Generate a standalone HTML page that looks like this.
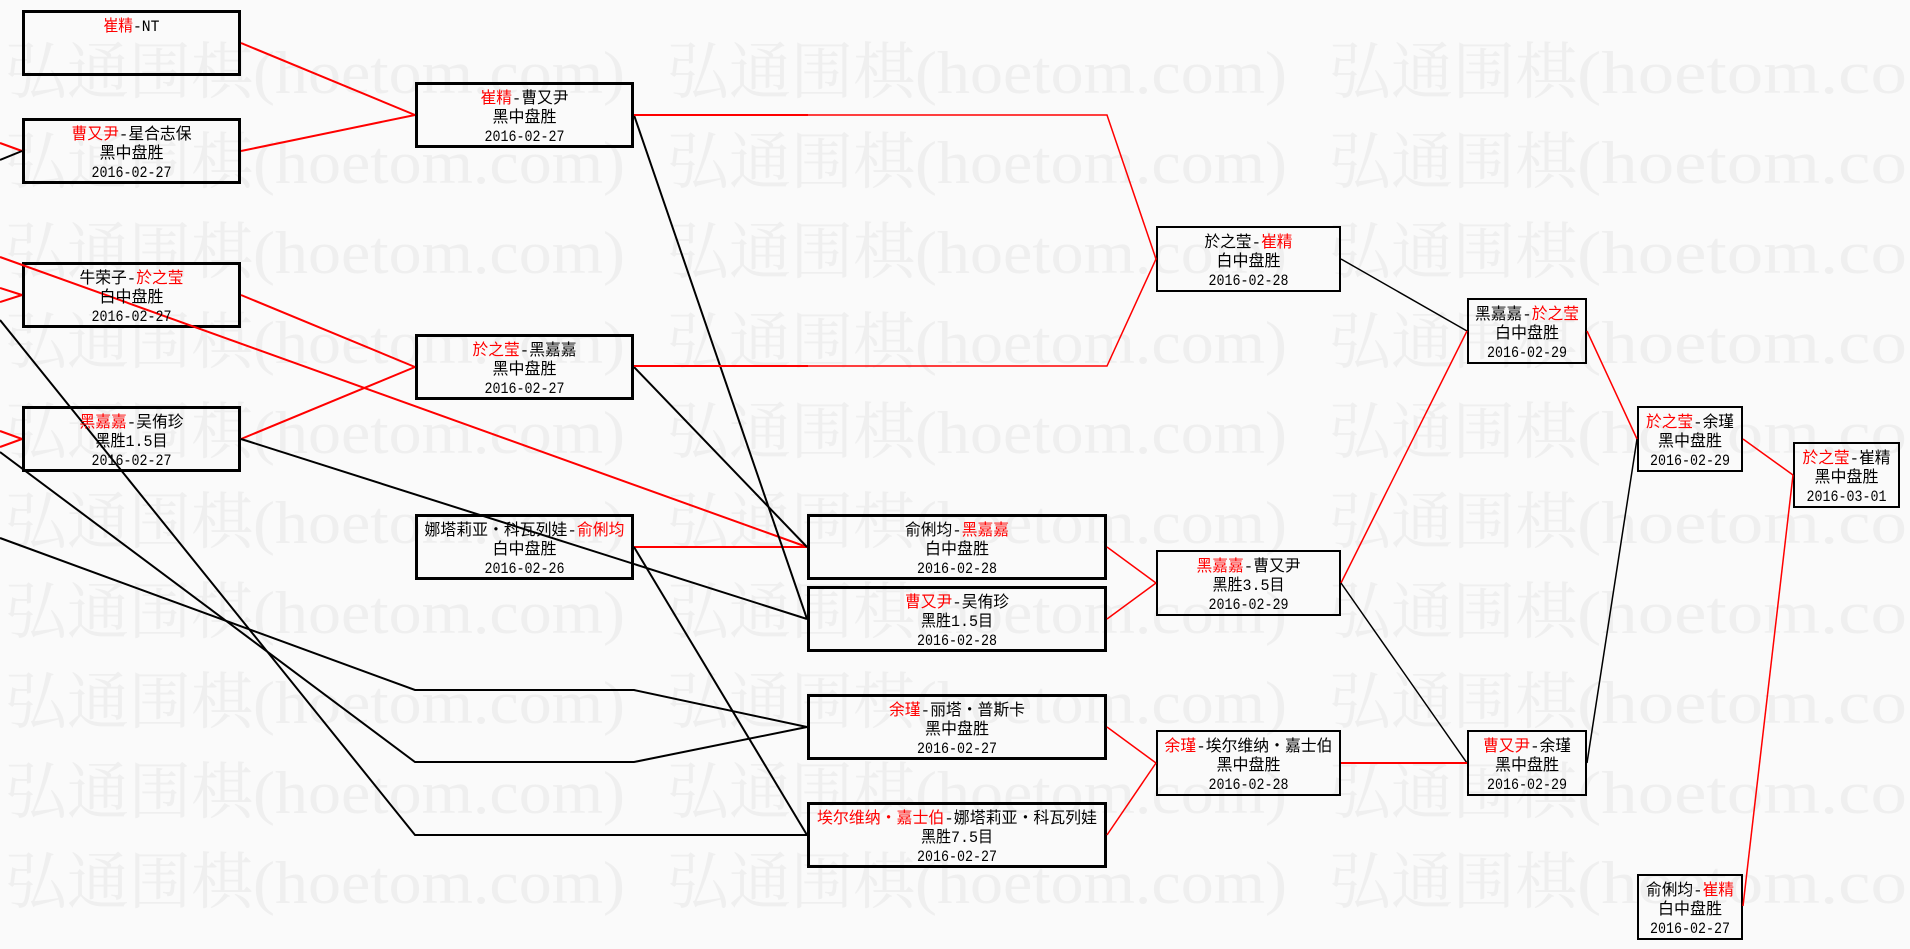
<!DOCTYPE html>
<html>
<head>
<meta charset="utf-8">
<style>
html,body{margin:0;padding:0;background:#fafafa;width:1910px;height:949px;overflow:hidden}
svg{display:block}
.wc{font-family:"Noto Serif CJK SC","Liberation Serif",serif;font-size:62px;fill:#efefef}
.wa{font-family:"Liberation Serif","Noto Serif CJK SC",serif;font-size:60px;fill:#efefef}
.t{font-family:"Liberation Mono","Noto Sans CJK SC",sans-serif;font-size:16px;fill:#000}
.r{fill:#ff0000}
.b3{fill:none;stroke:#000;stroke-width:3}
.b2{fill:none;stroke:#000;stroke-width:2}
.lr{fill:none;stroke:#ff0000;stroke-width:2}
.lb{fill:none;stroke:#000;stroke-width:2}
.lrt{fill:none;stroke:#ff0000;stroke-width:1.5}
.lbt{fill:none;stroke:#000;stroke-width:1.5}
</style>
</head>
<body>
<svg width="1910" height="949" viewBox="0 0 1910 949" xmlns="http://www.w3.org/2000/svg">
<rect x="0" y="0" width="1910" height="949" fill="#fafafa"/>

<!-- watermark -->
<g>
<text class="wc" x="5" y="93" textLength="248" lengthAdjust="spacingAndGlyphs">弘通围棋</text><text class="wa" x="253" y="93" textLength="372" lengthAdjust="spacingAndGlyphs">(hoetom.com)</text>
<text class="wc" x="667" y="93" textLength="248" lengthAdjust="spacingAndGlyphs">弘通围棋</text><text class="wa" x="915" y="93" textLength="372" lengthAdjust="spacingAndGlyphs">(hoetom.com)</text>
<text class="wc" x="1329" y="93" textLength="248" lengthAdjust="spacingAndGlyphs">弘通围棋</text><text class="wa" x="1577" y="93" textLength="330" lengthAdjust="spacingAndGlyphs">(hoetom.co</text>

<text class="wc" x="5" y="183" textLength="248" lengthAdjust="spacingAndGlyphs">弘通围棋</text><text class="wa" x="253" y="183" textLength="372" lengthAdjust="spacingAndGlyphs">(hoetom.com)</text>
<text class="wc" x="667" y="183" textLength="248" lengthAdjust="spacingAndGlyphs">弘通围棋</text><text class="wa" x="915" y="183" textLength="372" lengthAdjust="spacingAndGlyphs">(hoetom.com)</text>
<text class="wc" x="1329" y="183" textLength="248" lengthAdjust="spacingAndGlyphs">弘通围棋</text><text class="wa" x="1577" y="183" textLength="330" lengthAdjust="spacingAndGlyphs">(hoetom.co</text>

<text class="wc" x="5" y="273" textLength="248" lengthAdjust="spacingAndGlyphs">弘通围棋</text><text class="wa" x="253" y="273" textLength="372" lengthAdjust="spacingAndGlyphs">(hoetom.com)</text>
<text class="wc" x="667" y="273" textLength="248" lengthAdjust="spacingAndGlyphs">弘通围棋</text><text class="wa" x="915" y="273" textLength="372" lengthAdjust="spacingAndGlyphs">(hoetom.com)</text>
<text class="wc" x="1329" y="273" textLength="248" lengthAdjust="spacingAndGlyphs">弘通围棋</text><text class="wa" x="1577" y="273" textLength="330" lengthAdjust="spacingAndGlyphs">(hoetom.co</text>

<text class="wc" x="5" y="363" textLength="248" lengthAdjust="spacingAndGlyphs">弘通围棋</text><text class="wa" x="253" y="363" textLength="372" lengthAdjust="spacingAndGlyphs">(hoetom.com)</text>
<text class="wc" x="667" y="363" textLength="248" lengthAdjust="spacingAndGlyphs">弘通围棋</text><text class="wa" x="915" y="363" textLength="372" lengthAdjust="spacingAndGlyphs">(hoetom.com)</text>
<text class="wc" x="1329" y="363" textLength="248" lengthAdjust="spacingAndGlyphs">弘通围棋</text><text class="wa" x="1577" y="363" textLength="330" lengthAdjust="spacingAndGlyphs">(hoetom.co</text>

<text class="wc" x="5" y="453" textLength="248" lengthAdjust="spacingAndGlyphs">弘通围棋</text><text class="wa" x="253" y="453" textLength="372" lengthAdjust="spacingAndGlyphs">(hoetom.com)</text>
<text class="wc" x="667" y="453" textLength="248" lengthAdjust="spacingAndGlyphs">弘通围棋</text><text class="wa" x="915" y="453" textLength="372" lengthAdjust="spacingAndGlyphs">(hoetom.com)</text>
<text class="wc" x="1329" y="453" textLength="248" lengthAdjust="spacingAndGlyphs">弘通围棋</text><text class="wa" x="1577" y="453" textLength="330" lengthAdjust="spacingAndGlyphs">(hoetom.co</text>

<text class="wc" x="5" y="543" textLength="248" lengthAdjust="spacingAndGlyphs">弘通围棋</text><text class="wa" x="253" y="543" textLength="372" lengthAdjust="spacingAndGlyphs">(hoetom.com)</text>
<text class="wc" x="667" y="543" textLength="248" lengthAdjust="spacingAndGlyphs">弘通围棋</text><text class="wa" x="915" y="543" textLength="372" lengthAdjust="spacingAndGlyphs">(hoetom.com)</text>
<text class="wc" x="1329" y="543" textLength="248" lengthAdjust="spacingAndGlyphs">弘通围棋</text><text class="wa" x="1577" y="543" textLength="330" lengthAdjust="spacingAndGlyphs">(hoetom.co</text>

<text class="wc" x="5" y="633" textLength="248" lengthAdjust="spacingAndGlyphs">弘通围棋</text><text class="wa" x="253" y="633" textLength="372" lengthAdjust="spacingAndGlyphs">(hoetom.com)</text>
<text class="wc" x="667" y="633" textLength="248" lengthAdjust="spacingAndGlyphs">弘通围棋</text><text class="wa" x="915" y="633" textLength="372" lengthAdjust="spacingAndGlyphs">(hoetom.com)</text>
<text class="wc" x="1329" y="633" textLength="248" lengthAdjust="spacingAndGlyphs">弘通围棋</text><text class="wa" x="1577" y="633" textLength="330" lengthAdjust="spacingAndGlyphs">(hoetom.co</text>

<text class="wc" x="5" y="723" textLength="248" lengthAdjust="spacingAndGlyphs">弘通围棋</text><text class="wa" x="253" y="723" textLength="372" lengthAdjust="spacingAndGlyphs">(hoetom.com)</text>
<text class="wc" x="667" y="723" textLength="248" lengthAdjust="spacingAndGlyphs">弘通围棋</text><text class="wa" x="915" y="723" textLength="372" lengthAdjust="spacingAndGlyphs">(hoetom.com)</text>
<text class="wc" x="1329" y="723" textLength="248" lengthAdjust="spacingAndGlyphs">弘通围棋</text><text class="wa" x="1577" y="723" textLength="330" lengthAdjust="spacingAndGlyphs">(hoetom.co</text>

<text class="wc" x="5" y="813" textLength="248" lengthAdjust="spacingAndGlyphs">弘通围棋</text><text class="wa" x="253" y="813" textLength="372" lengthAdjust="spacingAndGlyphs">(hoetom.com)</text>
<text class="wc" x="667" y="813" textLength="248" lengthAdjust="spacingAndGlyphs">弘通围棋</text><text class="wa" x="915" y="813" textLength="372" lengthAdjust="spacingAndGlyphs">(hoetom.com)</text>
<text class="wc" x="1329" y="813" textLength="248" lengthAdjust="spacingAndGlyphs">弘通围棋</text><text class="wa" x="1577" y="813" textLength="330" lengthAdjust="spacingAndGlyphs">(hoetom.co</text>

<text class="wc" x="5" y="903" textLength="248" lengthAdjust="spacingAndGlyphs">弘通围棋</text><text class="wa" x="253" y="903" textLength="372" lengthAdjust="spacingAndGlyphs">(hoetom.com)</text>
<text class="wc" x="667" y="903" textLength="248" lengthAdjust="spacingAndGlyphs">弘通围棋</text><text class="wa" x="915" y="903" textLength="372" lengthAdjust="spacingAndGlyphs">(hoetom.com)</text>
<text class="wc" x="1329" y="903" textLength="248" lengthAdjust="spacingAndGlyphs">弘通围棋</text><text class="wa" x="1577" y="903" textLength="330" lengthAdjust="spacingAndGlyphs">(hoetom.co</text>
</g>

<!-- boxes col1-3 (thick) -->
<rect class="b3" x="23.5" y="11.5" width="216" height="63"/>
<rect class="b3" x="23.5" y="119.5" width="216" height="63"/>
<rect class="b3" x="23.5" y="263.5" width="216" height="63"/>
<rect class="b3" x="23.5" y="407.5" width="216" height="63"/>
<rect class="b3" x="416.5" y="83.5" width="216" height="63"/>
<rect class="b3" x="416.5" y="335.5" width="216" height="63"/>
<rect class="b3" x="416.5" y="515.5" width="216" height="63"/>
<rect class="b3" x="808.5" y="515.5" width="297" height="63"/>
<rect class="b3" x="808.5" y="587.5" width="297" height="63"/>
<rect class="b3" x="808.5" y="695.5" width="297" height="63"/>
<rect class="b3" x="808.5" y="803.5" width="297" height="63"/>
<!-- boxes col4-7 (thinner) -->
<rect class="b2" x="1157" y="227" width="183" height="64"/>
<rect class="b2" x="1157" y="551" width="183" height="64"/>
<rect class="b2" x="1157" y="731" width="183" height="64"/>
<rect class="b2" x="1468" y="299" width="118" height="64"/>
<rect class="b2" x="1468" y="731" width="118" height="64"/>
<rect class="b2" x="1638" y="407" width="104" height="64"/>
<rect class="b2" x="1638" y="875" width="104" height="64"/>
<rect class="b2" x="1794" y="443" width="105" height="64"/>

<!-- left stubs -->
<line class="lr" x1="0" y1="143" x2="22" y2="151"/>
<line class="lb" x1="0" y1="160" x2="22" y2="151"/>
<line class="lr" x1="0" y1="288" x2="22" y2="295"/>
<line class="lr" x1="0" y1="302" x2="22" y2="295"/>
<line class="lr" x1="0" y1="431" x2="22" y2="439"/>
<line class="lr" x1="0" y1="447" x2="22" y2="439"/>

<!-- col1 -> col2 -->
<line class="lr" x1="241" y1="43" x2="415" y2="115"/>
<line class="lr" x1="241" y1="151" x2="415" y2="115"/>
<line class="lr" x1="241" y1="295" x2="415" y2="367"/>
<line class="lr" x1="241" y1="439" x2="415" y2="367"/>
<line class="lb" x1="241" y1="439" x2="807" y2="619"/>
<line class="lr" x1="0" y1="257" x2="807" y2="547"/>
<polyline class="lb" points="0,320 415,835 634,835 807,835"/>
<polyline class="lb" points="0,452 415,762 634,762 807,727"/>
<polyline class="lb" points="0,538 415,690 634,690 807,727"/>

<!-- col2 -> col3 -->
<line class="lr" x1="634" y1="547" x2="807" y2="547"/>
<line class="lb" x1="634" y1="115" x2="807" y2="619"/>
<line class="lb" x1="634" y1="367" x2="807" y2="547"/>
<line class="lb" x1="634" y1="547" x2="807" y2="835"/>
<line class="lr" x1="634" y1="115" x2="808" y2="115"/>
<line class="lr" x1="634" y1="366" x2="808" y2="366"/>
<polyline class="lrt" points="808,115 1107,115 1156,259 1107,366 808,366"/>

<!-- col3 -> col4 -->
<line class="lrt" x1="1107" y1="547" x2="1156" y2="583"/>
<line class="lrt" x1="1107" y1="619" x2="1156" y2="583"/>
<line class="lrt" x1="1107" y1="727" x2="1156" y2="763"/>
<line class="lrt" x1="1107" y1="835" x2="1156" y2="763"/>

<!-- col4 -> col5 -->
<line class="lbt" x1="1341" y1="259" x2="1467" y2="331"/>
<line class="lrt" x1="1341" y1="583" x2="1467" y2="331"/>
<line class="lbt" x1="1341" y1="583" x2="1467" y2="763"/>
<line class="lr" x1="1341" y1="763" x2="1467" y2="763"/>

<!-- col5 -> col6 -->
<line class="lrt" x1="1587" y1="331" x2="1637" y2="439"/>
<line class="lbt" x1="1587" y1="763" x2="1637" y2="439"/>

<!-- col6 -> col7 -->
<line class="lrt" x1="1743" y1="439" x2="1793" y2="475"/>
<line class="lrt" x1="1793" y1="475" x2="1743" y2="906"/>

<!-- labels -->
<g class="t" text-anchor="middle">
<text x="131.5" y="31" textLength="56" lengthAdjust="spacingAndGlyphs"><tspan class="r">崔精</tspan>-NT</text>
<text x="131.5" y="139" textLength="120" lengthAdjust="spacingAndGlyphs"><tspan class="r">曹又尹</tspan>-星合志保</text>
<text x="131.5" y="158" textLength="64" lengthAdjust="spacingAndGlyphs">黑中盘胜</text>
<text x="131.5" y="177" textLength="80" lengthAdjust="spacingAndGlyphs">2016-02-27</text>
<text x="131.5" y="283" textLength="104" lengthAdjust="spacingAndGlyphs">牛荣子-<tspan class="r">於之莹</tspan></text>
<text x="131.5" y="302" textLength="64" lengthAdjust="spacingAndGlyphs">白中盘胜</text>
<text x="131.5" y="321" textLength="80" lengthAdjust="spacingAndGlyphs">2016-02-27</text>
<text x="131.5" y="427" textLength="104" lengthAdjust="spacingAndGlyphs"><tspan class="r">黑嘉嘉</tspan>-吴侑珍</text>
<text x="131.5" y="446" textLength="72" lengthAdjust="spacingAndGlyphs">黑胜1.5目</text>
<text x="131.5" y="465" textLength="80" lengthAdjust="spacingAndGlyphs">2016-02-27</text>
<text x="524.5" y="103" textLength="88" lengthAdjust="spacingAndGlyphs"><tspan class="r">崔精</tspan>-曹又尹</text>
<text x="524.5" y="122" textLength="64" lengthAdjust="spacingAndGlyphs">黑中盘胜</text>
<text x="524.5" y="141" textLength="80" lengthAdjust="spacingAndGlyphs">2016-02-27</text>
<text x="524.5" y="355" textLength="104" lengthAdjust="spacingAndGlyphs"><tspan class="r">於之莹</tspan>-黑嘉嘉</text>
<text x="524.5" y="374" textLength="64" lengthAdjust="spacingAndGlyphs">黑中盘胜</text>
<text x="524.5" y="393" textLength="80" lengthAdjust="spacingAndGlyphs">2016-02-27</text>
<text x="524.5" y="535" textLength="200" lengthAdjust="spacingAndGlyphs">娜塔莉亚・科瓦列娃-<tspan class="r">俞俐均</tspan></text>
<text x="524.5" y="554" textLength="64" lengthAdjust="spacingAndGlyphs">白中盘胜</text>
<text x="524.5" y="573" textLength="80" lengthAdjust="spacingAndGlyphs">2016-02-26</text>
<text x="957" y="535" textLength="104" lengthAdjust="spacingAndGlyphs">俞俐均-<tspan class="r">黑嘉嘉</tspan></text>
<text x="957" y="554" textLength="64" lengthAdjust="spacingAndGlyphs">白中盘胜</text>
<text x="957" y="573" textLength="80" lengthAdjust="spacingAndGlyphs">2016-02-28</text>
<text x="957" y="607" textLength="104" lengthAdjust="spacingAndGlyphs"><tspan class="r">曹又尹</tspan>-吴侑珍</text>
<text x="957" y="626" textLength="72" lengthAdjust="spacingAndGlyphs">黑胜1.5目</text>
<text x="957" y="645" textLength="80" lengthAdjust="spacingAndGlyphs">2016-02-28</text>
<text x="957" y="715" textLength="136" lengthAdjust="spacingAndGlyphs"><tspan class="r">余瑾</tspan>-丽塔・普斯卡</text>
<text x="957" y="734" textLength="64" lengthAdjust="spacingAndGlyphs">黑中盘胜</text>
<text x="957" y="753" textLength="80" lengthAdjust="spacingAndGlyphs">2016-02-27</text>
<text x="957" y="823" textLength="280" lengthAdjust="spacingAndGlyphs"><tspan class="r">埃尔维纳・嘉士伯</tspan>-娜塔莉亚・科瓦列娃</text>
<text x="957" y="842" textLength="72" lengthAdjust="spacingAndGlyphs">黑胜7.5目</text>
<text x="957" y="861" textLength="80" lengthAdjust="spacingAndGlyphs">2016-02-27</text>
<text x="1248.5" y="247" textLength="88" lengthAdjust="spacingAndGlyphs">於之莹-<tspan class="r">崔精</tspan></text>
<text x="1248.5" y="266" textLength="64" lengthAdjust="spacingAndGlyphs">白中盘胜</text>
<text x="1248.5" y="285" textLength="80" lengthAdjust="spacingAndGlyphs">2016-02-28</text>
<text x="1248.5" y="571" textLength="104" lengthAdjust="spacingAndGlyphs"><tspan class="r">黑嘉嘉</tspan>-曹又尹</text>
<text x="1248.5" y="590" textLength="72" lengthAdjust="spacingAndGlyphs">黑胜3.5目</text>
<text x="1248.5" y="609" textLength="80" lengthAdjust="spacingAndGlyphs">2016-02-29</text>
<text x="1248.5" y="751" textLength="168" lengthAdjust="spacingAndGlyphs"><tspan class="r">余瑾</tspan>-埃尔维纳・嘉士伯</text>
<text x="1248.5" y="770" textLength="64" lengthAdjust="spacingAndGlyphs">黑中盘胜</text>
<text x="1248.5" y="789" textLength="80" lengthAdjust="spacingAndGlyphs">2016-02-28</text>
<text x="1527" y="319" textLength="104" lengthAdjust="spacingAndGlyphs">黑嘉嘉-<tspan class="r">於之莹</tspan></text>
<text x="1527" y="338" textLength="64" lengthAdjust="spacingAndGlyphs">白中盘胜</text>
<text x="1527" y="357" textLength="80" lengthAdjust="spacingAndGlyphs">2016-02-29</text>
<text x="1527" y="751" textLength="88" lengthAdjust="spacingAndGlyphs"><tspan class="r">曹又尹</tspan>-余瑾</text>
<text x="1527" y="770" textLength="64" lengthAdjust="spacingAndGlyphs">黑中盘胜</text>
<text x="1527" y="789" textLength="80" lengthAdjust="spacingAndGlyphs">2016-02-29</text>
<text x="1690" y="427" textLength="88" lengthAdjust="spacingAndGlyphs"><tspan class="r">於之莹</tspan>-余瑾</text>
<text x="1690" y="446" textLength="64" lengthAdjust="spacingAndGlyphs">黑中盘胜</text>
<text x="1690" y="465" textLength="80" lengthAdjust="spacingAndGlyphs">2016-02-29</text>
<text x="1690" y="895" textLength="88" lengthAdjust="spacingAndGlyphs">俞俐均-<tspan class="r">崔精</tspan></text>
<text x="1690" y="914" textLength="64" lengthAdjust="spacingAndGlyphs">白中盘胜</text>
<text x="1690" y="933" textLength="80" lengthAdjust="spacingAndGlyphs">2016-02-27</text>
<text x="1846.5" y="463" textLength="88" lengthAdjust="spacingAndGlyphs"><tspan class="r">於之莹</tspan>-崔精</text>
<text x="1846.5" y="482" textLength="64" lengthAdjust="spacingAndGlyphs">黑中盘胜</text>
<text x="1846.5" y="501" textLength="80" lengthAdjust="spacingAndGlyphs">2016-03-01</text>
</g>
</svg>
</body>
</html>
